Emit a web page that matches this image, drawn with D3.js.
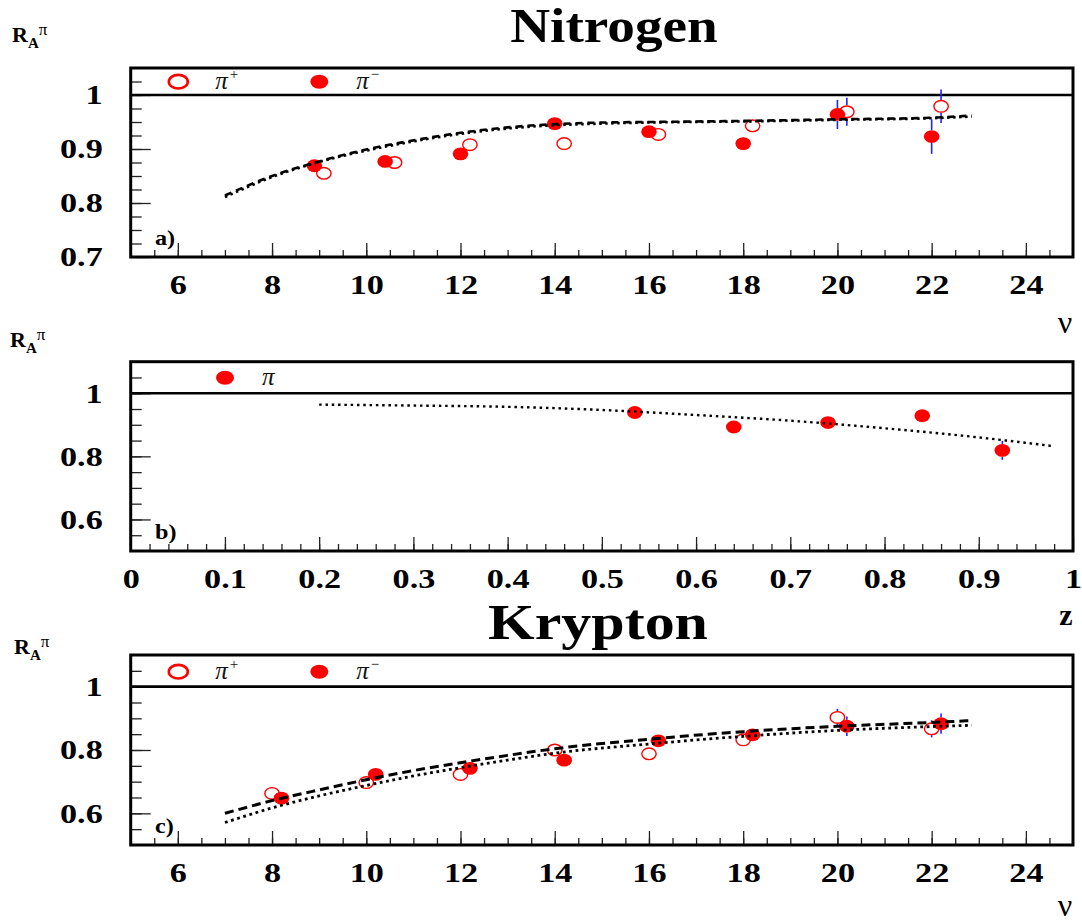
<!DOCTYPE html>
<html><head><meta charset="utf-8">
<script src="https://cdn.jsdelivr.net/npm/d3@7/dist/d3.min.js"></script>
<style>body{margin:0;background:#fff}svg{display:block}</style>
</head><body>
<svg id="chart" width="1082" height="924"></svg>
<script>
// ---------- tick labels ----------
const nuTicks = [6, 8, 10, 12, 14, 16, 18, 20, 22, 24];
const nuTickLabels = ["6", "8", "10", "12", "14", "16", "18", "20", "22", "24"];
const zTicks = [0, 0.1, 0.2, 0.3, 0.4, 0.5, 0.6, 0.7, 0.8, 0.9, 1];
const zTickLabels = ["0", "0.1", "0.2", "0.3", "0.4", "0.5", "0.6", "0.7", "0.8", "0.9", "1"];
const nYTicks = [0.7, 0.8, 0.9, 1];
const nYTickLabels = ["0.7", "0.8", "0.9", "1"];
const bYTicks = [0.6, 0.8, 1];
const bYTickLabels = ["0.6", "0.8", "1"];

// ---------- panel a) Nitrogen ----------
const nPipNu  = [9.1, 10.6, 12.2, 14.2, 16.2, 18.2, 20.2, 22.2];
const nPipR   = [0.855, 0.875, 0.908, 0.910, 0.927, 0.943, 0.969, 0.979];
const nPipErr = [0.010, 0.010, 0.010, 0.010, 0.011, 0.012, 0.026, 0.031];
const nPimNu  = [8.9, 10.4, 12.0, 14.0, 16.0, 18.0, 20.0, 22.0];
const nPimR   = [0.869, 0.877, 0.891, 0.947, 0.932, 0.910, 0.964, 0.923];
const nPimErr = [0.012, 0.010, 0.010, 0.010, 0.011, 0.012, 0.027, 0.032];
const nCurveNu = [7, 8, 9, 10, 11, 12, 13, 14, 15, 16, 18, 20, 22, 22.85];
const nDashR   = [0.814, 0.850, 0.877, 0.899, 0.916, 0.930, 0.940, 0.946, 0.949, 0.950, 0.952, 0.955, 0.958, 0.962];
const nDotR    = [0.811, 0.848, 0.876, 0.897, 0.914, 0.928, 0.938, 0.944, 0.947, 0.949, 0.951, 0.954, 0.957, 0.960];

// ---------- panel b) z dependence ----------
const bZ    = [0.535, 0.640, 0.740, 0.840, 0.925];
const bR    = [0.939, 0.893, 0.907, 0.929, 0.819];
const bErr  = [0.010, 0.010, 0.011, 0.012, 0.030];
const bCurveZ = [0.2, 0.3, 0.4, 0.5, 0.6, 0.7, 0.8, 0.9, 0.98];
const bCurveR = [0.964, 0.961, 0.957, 0.947, 0.931, 0.913, 0.889, 0.860, 0.832];

// ---------- panel c) Krypton ----------
const kPipNu  = [8.0, 10.0, 12.0, 14.0, 16.0, 18.0, 20.0, 22.0];
const kPipR   = [0.663, 0.697, 0.723, 0.800, 0.788, 0.832, 0.903, 0.867];
const kPipErr = [0.012, 0.012, 0.012, 0.014, 0.015, 0.016, 0.027, 0.027];
const kPimNu  = [8.2, 10.2, 12.2, 14.2, 16.2, 18.2, 20.2, 22.2];
const kPimR   = [0.648, 0.723, 0.742, 0.768, 0.829, 0.848, 0.875, 0.883];
const kPimErr = [0.012, 0.012, 0.012, 0.014, 0.015, 0.016, 0.031, 0.032];
const kCurveNu = [7, 8, 9, 10, 11, 12, 13, 14, 16, 18, 20, 22, 22.85];
const kDashR   = [0.600, 0.640, 0.674, 0.706, 0.735, 0.760, 0.783, 0.804, 0.834, 0.858, 0.875, 0.887, 0.893];
const kDotR    = [0.571, 0.617, 0.655, 0.688, 0.718, 0.744, 0.768, 0.790, 0.819, 0.843, 0.862, 0.874, 0.878];

// ---------- drawing ----------
const svg = d3.select("#chart");
const SERIF = "'Liberation Serif','Times New Roman',serif";
const X0 = 130.7, X1 = 1073;
const RED = "#ff0000", BLUE = "#2222ff";

function stretch(sel, f) {
  sel.each(function () {
    const w = this.getComputedTextLength();
    if (w > 0) {
      this.setAttribute("textLength", (w * f).toFixed(1));
      this.setAttribute("lengthAdjust", "spacingAndGlyphs");
    }
  });
}

function range(a, b, s) { return d3.range(Math.round((b - a) / s) + 1).map(i => +(a + i * s).toFixed(4)); }

function panel(o) {
  const g = svg.append("g");
  const x = d3.scaleLinear().domain(o.xDomain).range([X0, X1]);
  const y = d3.scaleLinear().domain(o.yDomain).range([o.yBottom, o.yTop]);

  const styleAxis = s => {
    s.select(".domain").remove();
    s.attr("font-family", null);
    s.selectAll(".tick line").attr("stroke", "#222").attr("stroke-width", 1.3);
  };
  // minor ticks
  g.append("g").attr("transform", `translate(${X0},0)`)
    .call(d3.axisLeft(y).tickValues(o.yMinor).tickSize(-11).tickFormat(""))
    .call(styleAxis);
  g.append("g").attr("transform", `translate(0,${o.yBottom})`)
    .call(d3.axisBottom(x).tickValues(o.xMinor).tickSize(-7).tickFormat(""))
    .call(styleAxis);
  // major ticks with labels
  const ya = g.append("g").attr("transform", `translate(${X0},0)`)
    .call(d3.axisLeft(y).tickValues(o.yTicks).tickSize(-20).tickPadding(28)
      .tickFormat((d, i) => o.yLabels[i]))
    .call(styleAxis);
  const xa = g.append("g").attr("transform", `translate(0,${o.yBottom})`)
    .call(d3.axisBottom(x).tickValues(o.xTicks).tickSize(-14).tickPadding(17)
      .tickFormat((d, i) => o.xLabels[i]))
    .call(styleAxis);
  [ya, xa].forEach(a => {
    a.selectAll("text").style("font-family", SERIF).style("font-weight", "bold")
      .style("font-size", "28px").attr("fill", "#000");
    stretch(a.selectAll("text"), 1.22);
  });

  // reference line at 1
  g.append("line").attr("x1", X0).attr("x2", X1).attr("y1", y(1)).attr("y2", y(1))
    .attr("stroke", "#000").attr("stroke-width", 2.6);

  // error bars (outside marker)
  const ry = 6.4, rx = 7.8;
  function errs(xs, ys, es) {
    xs.forEach((v, i) => {
      const cx = x(v), cy = y(ys[i]), t = y(ys[i] + es[i]), b = y(ys[i] - es[i]);
      if (cy - t > ry) g.append("line").attr("x1", cx).attr("x2", cx).attr("y1", cy - ry).attr("y2", t)
        .attr("stroke", BLUE).attr("stroke-width", 1.6);
      if (b - cy > ry) g.append("line").attr("x1", cx).attr("x2", cx).attr("y1", cy + ry).attr("y2", b)
        .attr("stroke", BLUE).attr("stroke-width", 1.6);
    });
  }
  (o.series || []).forEach(s => errs(s.xs, s.ys, s.es));
  (o.series || []).forEach(s => {
    g.append("g").selectAll("ellipse").data(s.xs.map((v, i) => [v, s.ys[i]])).join("ellipse")
      .attr("cx", d => x(d[0])).attr("cy", d => y(d[1]))
      .attr("rx", s.open ? rx - 0.6 : rx).attr("ry", s.open ? ry - 0.6 : ry)
      .attr("fill", s.open ? "none" : RED)
      .attr("stroke", s.open ? RED : "none").attr("stroke-width", 1.4);
  });

  // curves
  (o.curves || []).forEach(c => {
    const line = d3.line().x(d => x(d[0])).y(d => y(d[1])).curve(d3.curveMonotoneX);
    g.append("path").attr("d", line(c.xs.map((v, i) => [v, c.ys[i]])))
      .attr("fill", "none").attr("stroke", "#000").attr("stroke-width", c.w)
      .attr("stroke-dasharray", c.dash);
  });

  // frame
  g.append("rect").attr("x", X0).attr("y", o.yTop).attr("width", X1 - X0).attr("height", o.yBottom - o.yTop)
    .attr("fill", "none").attr("stroke", "#000").attr("stroke-width", 3);

  // panel letter
  const pl = g.append("text").attr("x", 155).attr("y", o.yBottom - 12).text(o.letter)
    .style("font-family", SERIF).style("font-weight", "bold").style("font-size", "22px");
  stretch(pl, 1.1);

  // R_A^pi label
  const r = svg.append("text").attr("x", o.rx).attr("y", o.rY).style("font-family", SERIF);
  r.append("tspan").text("R").style("font-weight", "bold").style("font-size", "22px");
  r.append("tspan").text("A").style("font-weight", "bold").style("font-size", "15px").attr("dy", 6);
  r.append("tspan").text("π").style("font-size", "17px").attr("dy", -13);

  // legend
  o.legend.forEach(l => {
    g.append("ellipse").attr("cx", l.x).attr("cy", o.legY).attr("rx", l.open ? 9.5 : 9).attr("ry", l.open ? 6.8 : 7)
      .attr("fill", l.open ? "none" : RED).attr("stroke", l.open ? RED : "none").attr("stroke-width", 2.6);
    const t = g.append("text").attr("x", l.x + 37).attr("y", o.legY + 7).style("font-family", SERIF)
      .style("font-size", "25px").style("font-style", "italic").attr("fill", "#111");
    t.append("tspan").text("π");
    if (l.sup) t.append("tspan").text(l.sup).style("font-size", "15px").style("font-style", "normal").attr("dy", -10).attr("dx", 2);
  });
  return { x, y, g };
}

// panel a
panel({
  xDomain: [5, 25], yDomain: [0.7, 1.05], yBottom: 257, yTop: 68,
  xTicks: nuTicks, xLabels: nuTickLabels, xMinor: range(5.5, 24.5, 0.5),
  yTicks: nYTicks, yLabels: nYTickLabels, yMinor: range(0.725, 1.025, 0.025),
  series: [
    { xs: nPipNu, ys: nPipR, es: nPipErr, open: true },
    { xs: nPimNu, ys: nPimR, es: nPimErr, open: false }
  ],
  curves: [
    { xs: nCurveNu, ys: nDashR, dash: "7,5", w: 2.6 },
    { xs: nCurveNu, ys: nDotR, dash: "2.5,3.5", w: 2.6 }
  ],
  letter: "a)", rx: 12, rY: 42, legY: 81.7,
  legend: [{ x: 178.3, open: true, sup: "+" }, { x: 319.3, open: false, sup: "−" }]
});

// panel b
panel({
  xDomain: [0, 1], yDomain: [0.5, 1.1], yBottom: 551, yTop: 361.7,
  xTicks: zTicks, xLabels: zTickLabels, xMinor: range(0.02, 0.98, 0.02),
  yTicks: bYTicks, yLabels: bYTickLabels, yMinor: range(0.55, 1.05, 0.05),
  series: [{ xs: bZ, ys: bR, es: bErr, open: false }],
  curves: [{ xs: bCurveZ, ys: bCurveR, dash: "2.5,3.8", w: 2.4 }],
  letter: "b)", rx: 10, rY: 347, legY: 377.7,
  legend: [{ x: 225, open: false, sup: "" }]
});

// panel c
panel({
  xDomain: [5, 25], yDomain: [0.5, 1.1], yBottom: 845, yTop: 655,
  xTicks: nuTicks, xLabels: nuTickLabels, xMinor: range(5.5, 24.5, 0.5),
  yTicks: bYTicks, yLabels: bYTickLabels, yMinor: range(0.55, 1.05, 0.05),
  series: [
    { xs: kPipNu, ys: kPipR, es: kPipErr, open: true },
    { xs: kPimNu, ys: kPimR, es: kPimErr, open: false }
  ],
  curves: [
    { xs: kCurveNu, ys: kDashR, dash: "9,5", w: 3 },
    { xs: kCurveNu, ys: kDotR, dash: "2.8,3.6", w: 2.8 }
  ],
  letter: "c)", rx: 14, rY: 654, legY: 671.7,
  legend: [{ x: 178.3, open: true, sup: "+" }, { x: 319.3, open: false, sup: "−" }]
});

// titles and axis titles
const t1 = svg.append("text").attr("x", 614).attr("y", 42).attr("text-anchor", "middle")
  .style("font-family", SERIF).style("font-weight", "bold").style("font-size", "48px").text("Nitrogen");
stretch(t1, 1.15);
const t2 = svg.append("text").attr("x", 598).attr("y", 639).attr("text-anchor", "middle")
  .style("font-family", SERIF).style("font-weight", "bold").style("font-size", "50px").text("Krypton");
stretch(t2, 1.2);
svg.append("text").attr("x", 1065).attr("y", 333).attr("text-anchor", "middle")
  .style("font-family", SERIF).style("font-size", "32px").text("ν");
svg.append("text").attr("x", 1065).attr("y", 916).attr("text-anchor", "middle")
  .style("font-family", SERIF).style("font-size", "32px").text("ν");
svg.append("text").attr("x", 1066).attr("y", 625).attr("text-anchor", "middle")
  .style("font-family", SERIF).style("font-weight", "bold").style("font-size", "30px").text("z");
</script>
</body></html>
